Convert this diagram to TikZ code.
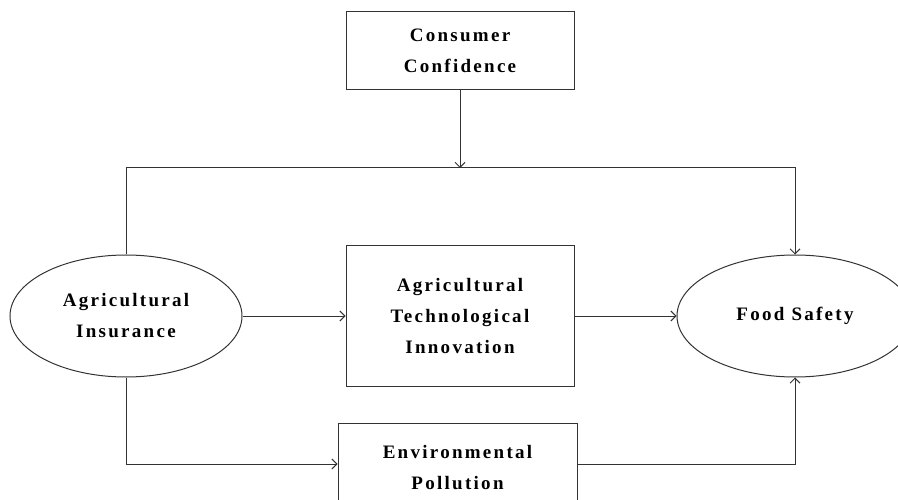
\documentclass[tikz,border=0pt]{standalone}
\usepackage{fontspec}
\setmainfont{Liberation Serif}[LetterSpace=12]
\usetikzlibrary{arrows.meta,shapes.geometric}
\begin{document}
\begin{tikzpicture}[x=1pt,y=-1pt,
  every node/.style={font=\fontsize{19}{31}\selectfont\bfseries, align=center, inner sep=0pt},
  boxnode/.style={draw=black!80, line width=1pt, rectangle},
  ellnode/.style={draw=black!80, line width=1pt, ellipse},
  conn/.style={draw=black!80, line width=1pt},
  arr/.style={conn, -{Straight Barb[length=5pt,width=10pt]}}]
\useasboundingbox (0,0) rectangle (898,500);
\clip (0,0) rectangle (898,500);
\node[boxnode, minimum width=228, minimum height=78] (cc) at (460,51) {Consumer\\Confidence};
\node[boxnode, minimum width=228, minimum height=140] (ati) at (460,316) {Agricultural\\Technological\\Innovation};
\node[boxnode, minimum width=239, minimum height=90] (ep) at (457.5,468) {Environmental\\Pollution};
\node[ellnode, minimum width=232, minimum height=122] (ai) at (126,316) {Agricultural\\Insurance};
\node[ellnode, minimum width=236, minimum height=122] (fs) at (795,316) {Food Safety};
\coordinate (topline) at (0,168);
\coordinate (botline) at (0,464);
\draw[arr] (cc.south) -- (cc.south |- topline);
\draw[arr] (ai.north) -- (ai.north |- topline) -- (fs.north |- topline) -- (fs.north);
\draw[arr] (ai.east) -- (ati.west);
\draw[arr] (ati.east) -- (fs.west);
\draw[arr] (ai.south) -- (ai.south |- botline) -- (ep.west |- botline);
\draw[arr] (ep.east |- botline) -- (fs.south |- botline) -- (fs.south);
\end{tikzpicture}
\end{document}
